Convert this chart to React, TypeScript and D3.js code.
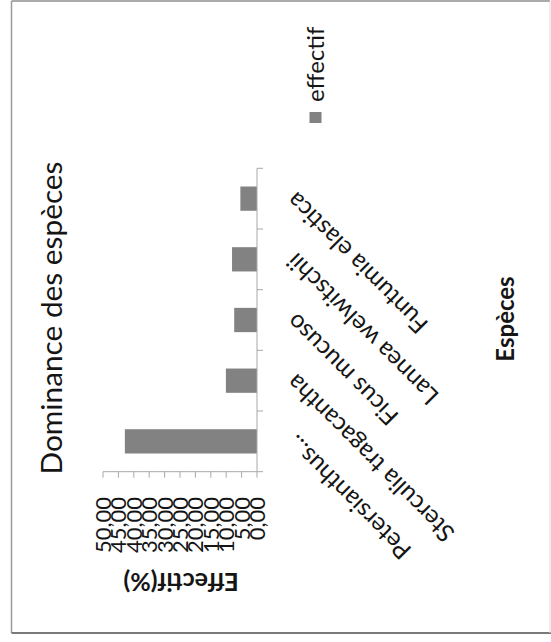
import React from "react";
import * as d3 from "d3";

const categories = [
  "Petersianthus...",
  "Sterculia tragacantha",
  "Ficus mucuso",
  "Lannea welwitschii",
  "Funtumia elastica",
];
const values = [42.9, 10.1, 7.4, 8.1, 5.4];
const tickValues = [0, 5, 10, 15, 20, 25, 30, 35, 40, 45, 50];
const tickLabels = ["0,00", "5,00", "10,00", "15,00", "20,00", "25,00", "30,00", "35,00", "40,00", "45,00", "50,00"];
const seriesName = "effectif";
const chartTitle = "Dominance des espèces";
const valueTitle = "Effectif(%)";
const categoryTitle = "Espèces";

const W = 551;
const H = 642;
const FONT = "Lato, 'Open Sans', sans-serif";
const BAR = "#828282";
const AXIS = "#a8a8a8";
const TEXT = "#151515";

export default function App() {
  const x = d3.scaleLinear().domain([0, 50]).range([257, 103]);
  const y = d3
    .scaleBand<string>()
    .domain(categories)
    .range([471.7, 168.3])
    .paddingInner(0.6)
    .paddingOuter(0.3);
  const step = y.step();
  const bw = y.bandwidth();
  const [r0, r1] = [168.3, 471.7];
  const catTicks = d3.range(categories.length + 1).map((k) => r0 + k * step);

  return (
    <svg
      width={W}
      height={H}
      viewBox={`0 0 ${W} ${H}`}
      style={{ position: "absolute", left: 0, top: 0, background: "#fff" }}
      fontFamily={FONT}
    >
      <rect x={0} y={0} width={W} height={H} fill="#fff" />
      <line x1={11.5} x2={550} y1={1} y2={1} stroke="#8f8f8f" strokeWidth={1.5} />
      <line x1={11.5} x2={11.5} y1={1} y2={633} stroke="#9a9a9a" strokeWidth={1.5} />
      <line x1={11.5} x2={551} y1={633} y2={633} stroke="#7a7a7a" strokeWidth={1.8} />
      <line x1={550} x2={550} y1={1} y2={633} stroke="#dcdcdc" strokeWidth={1} />

      {/* title */}
      <text
        transform={`translate(52,318) rotate(-90)`}
        textAnchor="middle"
        dy="0.35em"
        fontSize={29}
        fill={TEXT}
        textLength={313}
        lengthAdjust="spacingAndGlyphs"
      >
        {chartTitle}
      </text>

      {/* bars */}
      {categories.map((c, i) => (
        <rect
          key={c}
          x={x(values[i])}
          y={y(c)}
          width={x(0) - x(values[i])}
          height={bw}
          fill={BAR}
        />
      ))}

      {/* category axis */}
      <line x1={257} x2={257} y1={r0} y2={r1} stroke={AXIS} strokeWidth={1} />
      {catTicks.map((t, k) => (
        <line key={k} x1={257} x2={263} y1={t} y2={t} stroke={AXIS} strokeWidth={1} />
      ))}

      {/* value axis */}
      <line x1={x(50)} x2={x(0)} y1={r1} y2={r1} stroke={AXIS} strokeWidth={1} />
      {tickValues.map((v) => (
        <line key={v} x1={x(v)} x2={x(v)} y1={r1} y2={r1 + 6} stroke={AXIS} strokeWidth={1} />
      ))}
      {tickValues.map((v, i) => (
        <text
          key={v}
          transform={`translate(${x(v)},497) rotate(-90)`}
          textAnchor="end"
          dy="0.36em"
          fontSize={22}
          fill={TEXT}
        >
          {tickLabels[i]}
        </text>
      ))}

      {/* category labels */}
      {categories.map((c) => (
        <text
          key={c}
          transform={`translate(297,${(y(c) as number) + bw / 2 - 8}) rotate(-135)`}
          textAnchor="end"
          fontSize={24.5}
          fill={TEXT}
        >
          {c}
        </text>
      ))}

      {/* axis titles */}
      <text
        transform={`translate(181,582) rotate(180)`}
        textAnchor="middle"
        dy="0.35em"
        fontSize={25}
        fontWeight="bold"
        fill={TEXT}
      >
        {valueTitle}
      </text>
      <text
        transform={`translate(506,319) rotate(-90)`}
        textAnchor="middle"
        dy="0.35em"
        fontSize={24}
        fontWeight="bold"
        fill={TEXT}
      >
        {categoryTitle}
      </text>

      {/* legend */}
      <rect x={309.5} y={112} width={12} height={11} fill={BAR} />
      <text
        transform={`translate(316,102) rotate(-90)`}
        textAnchor="start"
        dy="0.35em"
        fontSize={24}
        fill={TEXT}
      >
        {seriesName}
      </text>
    </svg>
  );
}
